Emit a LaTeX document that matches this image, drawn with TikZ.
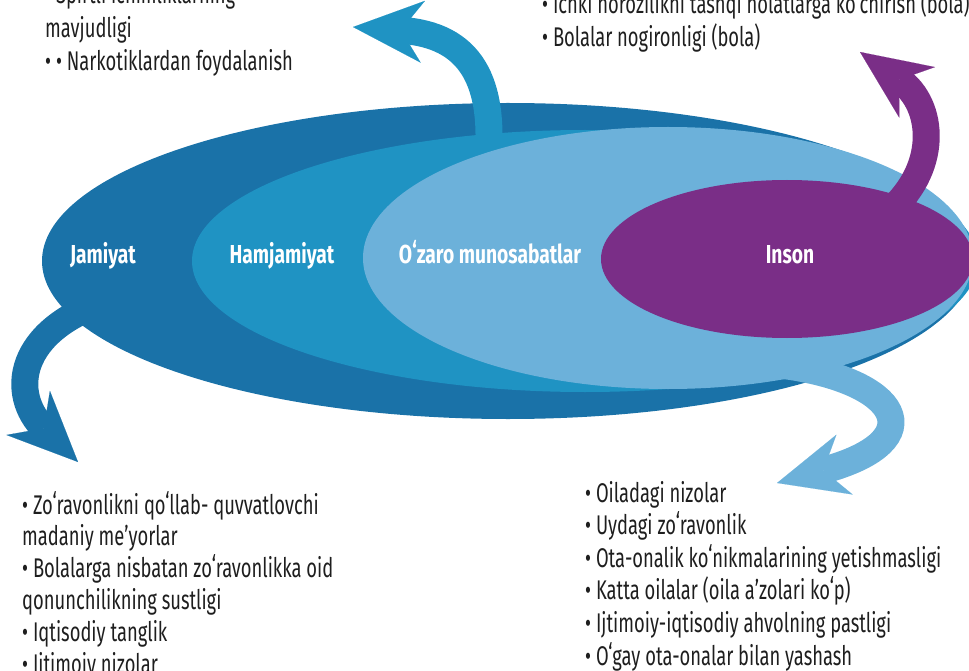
\documentclass[tikz,border=0pt]{standalone}
\usepackage{fontspec}
\setmainfont{Fira Sans}
\newfontfamily\listfont{Fira Sans}[FakeStretch=0.68]
\newfontfamily\levelfont{Fira Sans}[FakeStretch=0.74]
\usetikzlibrary{arrows.meta, shapes.geometric, positioning}

\definecolor{societyBlue}{RGB}{26,114,168}
\definecolor{communityBlue}{RGB}{31,147,195}
\definecolor{relationBlue}{RGB}{108,177,218}
\definecolor{personPurple}{RGB}{122,46,135}
\definecolor{listGray}{RGB}{30,30,30}

\tikzstyle{level} = [ellipse, inner sep=0pt, draw=none]
\tikzstyle{levelLabel} = [text=white, font=\levelfont\bfseries\fontsize{26}{26}\selectfont, inner sep=0pt, anchor=base]
\tikzstyle{riskList} = [align=left, inner sep=0pt, text=listGray, anchor=base west]
\tikzstyle{bigArrow} = [line width=27pt, -{Stealth[length=70pt, width=62pt, inset=22pt, line width=0.1pt]}]

\begin{document}
\begin{tikzpicture}[x=1pt, y=-1pt]
    \useasboundingbox (0,0) rectangle (969,671);
    \clip (0,0) rectangle (969,671);

    % arrow tips and where the arrows leave the rings
    \coordinate (societyOut) at (110,300);
    \coordinate (societyTip) at (78,462);
    \coordinate (communityOut) at (487,170);
    \coordinate (communityTip) at (353,27);
    \coordinate (relationOut) at (780,365);
    \coordinate (relationTip) at (777,483);
    \coordinate (personOut) at (885,215);
    \coordinate (personTip) at (860,52);

    % rings, outside to inside, each arrow under the next ring
    \draw[bigArrow, societyBlue] (societyOut) .. controls (15,330) and (10,395) .. (societyTip);
    \node[level, fill=societyBlue, minimum width=932pt, minimum height=316pt] (jamiyat) at (508,261) {};
    \draw[bigArrow, communityBlue] (communityOut) .. controls (497,80) and (470,35) .. (communityTip);
    \node[level, fill=communityBlue, minimum width=786pt, minimum height=262pt] (hamjamiyat) at (585,261) {};
    \draw[bigArrow, relationBlue] (relationOut) .. controls (900,380) and (935,440) .. (relationTip);
    \node[level, fill=relationBlue, minimum width=610pt, minimum height=262pt] (ozaro) at (668,258) {};
    \draw[bigArrow, personPurple] (personOut) .. controls (940,170) and (935,105) .. (personTip);
    \node[level, fill=personPurple, minimum width=372pt, minimum height=158pt] (inson) at (787,259) {};

    \node[levelLabel] (jamiyatLabel) at (103,263) {Jamiyat};
    \node[levelLabel] (hamjamiyatLabel) at (282,263) {Hamjamiyat};
    \node[levelLabel] (ozaroLabel) at (490,263) {Oʻzaro munosabatlar};
    \node[levelLabel] (insonLabel) at (790,263) {Inson};

    % risk factors for every level
    \node[riskList, font=\listfont\fontsize{27}{33.5}\selectfont] (communityRisks) at (45,71)
        {• Spirtli ichimliklarning\\mavjudligi\\• • Narkotiklardan foydalanish};
    \node[riskList, font=\listfont\fontsize{27}{33}\selectfont] (personRisks) at (542,47)
        {• Ichki norozilikni tashqi  holatlarga koʻchirish (bola)\\• Bolalar nogironligi (bola)};
    \node[riskList, font=\listfont\fontsize{27}{31.8}\selectfont] (societyRisks) at (22,673)
        {• Zoʻravonlikni  qoʻllab- quvvatlovchi\\madaniy meʼyorlar\\• Bolalarga nisbatan zoʻravonlikka oid\\qonunchilikning sustligi\\• Iqtisodiy tanglik\\• Ijtimoiy nizolar};
    \node[riskList, font=\listfont\fontsize{27}{32.6}\selectfont] (relationRisks) at (585,665)
        {• Oiladagi nizolar\\• Uydagi zoʻravonlik\\• Ota-onalik koʻnikmalarining yetishmasligi\\• Katta oilalar (oila aʼzolari koʻp)\\• Ijtimoiy-iqtisodiy ahvolning pastligi\\• Oʻgay ota-onalar bilan yashash};
\end{tikzpicture}
\end{document}
